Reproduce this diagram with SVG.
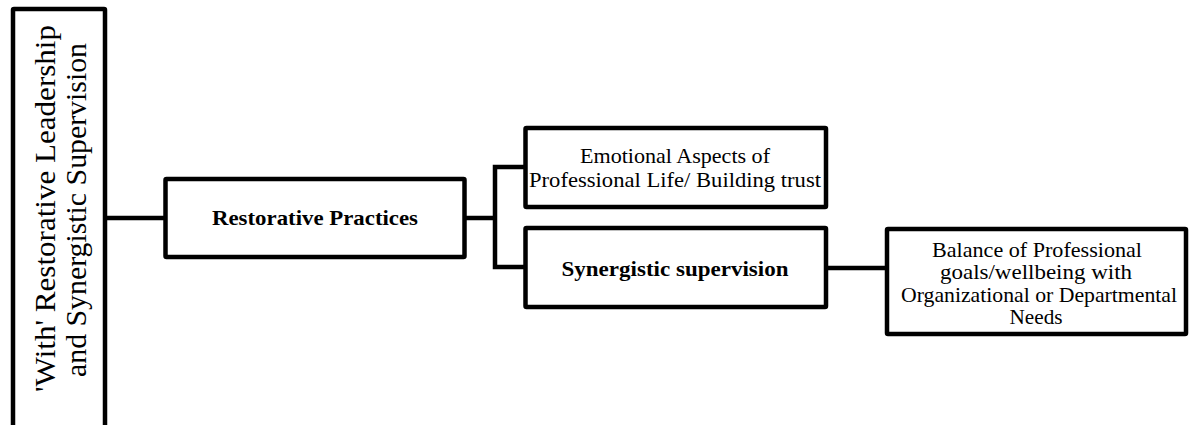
<svg xmlns="http://www.w3.org/2000/svg" width="1189" height="425" viewBox="0 0 1189 425">
  <style>
    .box { fill: #ffffff; stroke: #000000; stroke-width: 4.5; }
    .conn { fill: none; stroke: #000000; stroke-width: 4.5; }
    .t { font-family: "Liberation Serif", "Times New Roman", serif; font-size: 21px; fill: #000000; text-anchor: middle; }
    .b { font-weight: bold; }
    .v { font-size: 30px; }
  </style>
  <rect width="1189" height="425" fill="#ffffff"/>
  <g id="connectors">
    <line class="conn" x1="107" y1="218" x2="165" y2="218"/>
    <line class="conn" x1="465" y1="218" x2="495" y2="218"/>
    <polyline class="conn" points="525,167 495,167 495,267 525,267"/>
    <line class="conn" x1="826" y1="268" x2="887" y2="268"/>
  </g>
  <g id="node-root">
    <rect class="box" x="13" y="9" width="92" height="430" rx="1"/>
    <text class="t v" transform="translate(55,208.5) rotate(-90)" textLength="367" lengthAdjust="spacingAndGlyphs">'With' Restorative Leadership</text>
    <text class="t v" transform="translate(86,210) rotate(-90)" textLength="334" lengthAdjust="spacingAndGlyphs">and Synergistic Supervision</text>
  </g>
  <g id="node-restorative">
    <rect class="box" x="165.5" y="179" width="299" height="78" rx="1"/>
    <text class="t b" x="315" y="225" textLength="206" lengthAdjust="spacingAndGlyphs">Restorative Practices</text>
  </g>
  <g id="node-emotional">
    <rect class="box" x="525.5" y="128" width="300.5" height="79" rx="1"/>
    <text class="t" x="675" y="163" textLength="190" lengthAdjust="spacingAndGlyphs">Emotional Aspects of</text>
    <text class="t" x="675" y="186.5" textLength="292" lengthAdjust="spacingAndGlyphs">Professional Life/ Building trust</text>
  </g>
  <g id="node-synergistic">
    <rect class="box" x="525.5" y="228" width="300.5" height="79" rx="1"/>
    <text class="t b" x="675" y="275.5" textLength="227" lengthAdjust="spacingAndGlyphs">Synergistic supervision</text>
  </g>
  <g id="node-balance">
    <rect class="box" x="887" y="229" width="299" height="105" rx="1"/>
    <text class="t" x="1037" y="256.5" textLength="210" lengthAdjust="spacingAndGlyphs">Balance of Professional</text>
    <text class="t" x="1036" y="279" textLength="192" lengthAdjust="spacingAndGlyphs">goals/wellbeing with</text>
    <text class="t" x="1039" y="301.5" textLength="276" lengthAdjust="spacingAndGlyphs">Organizational or Departmental</text>
    <text class="t" x="1036" y="324" textLength="53" lengthAdjust="spacingAndGlyphs">Needs</text>
  </g>
</svg>
